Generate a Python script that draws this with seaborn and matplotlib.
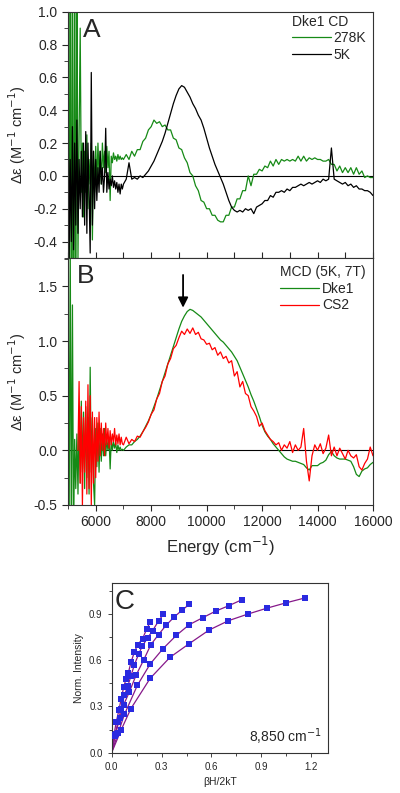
import numpy as np
import pandas as pd
import matplotlib
matplotlib.use("Agg")
import matplotlib.pyplot as plt
from matplotlib.ticker import MultipleLocator
import seaborn as sns

sns.set_style("ticks")
plt.rcParams['font.family'] = ['Liberation Sans', 'DejaVu Sans']
plt.rcParams['axes.unicode_minus'] = False

nan = np.nan

# energy grid of the spectra (cm-1): fine steps in the noisy NIR edge, 100 cm-1 after
E_LOW = [5000, 5040, 5080, 5120, 5160, 5200, 5240, 5280, 5320, 5360,
         5400, 5440, 5480, 5520, 5560, 5600, 5640, 5680, 5720, 5760,
         5800, 5840, 5880, 5920, 5960, 6000, 6040, 6080, 6120, 6160,
         6200, 6240, 6280, 6320, 6360, 6400, 6440, 6480, 6520, 6560,
         6600, 6640, 6680, 6720, 6760, 6800, 6840, 6880, 6920, 6960]
E_HIGH = [7000, 7100, 7200, 7300, 7400, 7500, 7600, 7700, 7800, 7900,
          8000, 8100, 8200, 8300, 8400, 8500, 8600, 8700, 8800, 8900,
          9000, 9100, 9200, 9300, 9400, 9500, 9600, 9700, 9800, 9900,
          10000, 10100, 10200, 10300, 10400, 10500, 10600, 10700, 10800, 10900,
          11000, 11100, 11200, 11300, 11400, 11500, 11600, 11700, 11800, 11900,
          12000, 12100, 12200, 12300, 12400, 12500, 12600, 12700, 12800, 12900,
          13000, 13100, 13200, 13300, 13400, 13500, 13600, 13700, 13800, 13900,
          14000, 14100, 14200, 14300, 14400, 14500, 14600, 14700, 14800, 14900,
          15000, 15100, 15200, 15300, 15400, 15500, 15600, 15700, 15800, 15900,
          16000]

# panel A: Dke1 CD
cd_278K = [1.6, -1.2, 1.8, -1.5, 1.4, -1.7, 1.5, -1.1, 1.3, -0.5,
           0.25, 0.9, -0.1, 0.2, -0.25, 0.15, -0.1, 0.25, -0.2, 0.1,
           -0.05, 0.2, -0.39, 0.15, -0.1, 0.18, -0.05, 0.2, 0.0, 0.15,
           -0.05, 0.2, 0.05, 0.15, 0.02, 0.18, 0.05, 0.15, -0.15, 0.12,
           0.08, 0.14, 0.1, 0.12, 0.09, 0.13, 0.1, 0.12, 0.1, 0.11,
           0.10, 0.13, 0.10, 0.15, 0.12, 0.16, 0.16, 0.21, 0.23, 0.28,
           0.30, 0.34, 0.32, 0.33, 0.30, 0.31, 0.28, 0.28, 0.23, 0.22,
           0.17, 0.16, 0.11, 0.08, 0.02, 0.00, -0.06, -0.09, -0.15, -0.16,
           -0.20, -0.20, -0.24, -0.24, -0.27, -0.28, -0.28, -0.24, -0.24, -0.19,
           -0.19, -0.14, -0.14, -0.09, -0.09, 0.00, -0.06, 0.01, 0.01, 0.04,
           0.03, 0.06, 0.05, 0.09, 0.06, 0.10, 0.07, 0.10, 0.09, 0.10,
           0.09, 0.10, 0.09, 0.12, 0.09, 0.12, 0.09, 0.11, 0.10, 0.11,
           0.10, 0.10, 0.09, 0.09, 0.10, 0.07, 0.07, 0.03, 0.06, 0.02,
           0.05, 0.02, 0.05, 0.01, 0.05, 0.01, 0.03, -0.01, 0.00, -0.01,
           -0.01]
cd_5K = [0.8, -0.5, 0.1, -0.4, 0.3, -0.45, 0.2, -0.3, 0.34, -0.35,
         0.1, -0.2, 0.15, -0.25, 0.2, -0.3, 0.27, -0.35, 0.2, -0.1,
         -0.47, 0.63, -0.3, 0.15, -0.2, 0.1, -0.15, 0.05, -0.1, 0.15,
         -0.05, 0.05, -0.1, 0.0, 0.29, -0.1, 0.02, -0.08, -0.02, -0.06,
         0.0, -0.07, -0.03, -0.08, -0.04, -0.1, -0.05, -0.11, -0.05, -0.08,
         -0.05, -0.02, 0.08, -0.02, -0.01, -0.02, 0.00, -0.01, 0.01, 0.03,
         0.06, 0.09, 0.13, 0.17, 0.21, 0.26, 0.32, 0.38, 0.44, 0.49,
         0.53, 0.55, 0.54, 0.51, 0.48, 0.44, 0.41, 0.37, 0.34, 0.29,
         0.23, 0.17, 0.12, 0.07, 0.03, -0.01, -0.05, -0.10, -0.15, -0.19,
         -0.21, -0.22, -0.21, -0.22, -0.20, -0.21, -0.20, -0.23, -0.19, -0.18,
         -0.17, -0.15, -0.15, -0.12, -0.13, -0.10, -0.10, -0.09, -0.10, -0.08,
         -0.09, -0.07, -0.07, -0.06, -0.05, -0.06, -0.05, -0.04, -0.05, -0.04,
         -0.03, -0.04, -0.02, -0.03, -0.02, 0.17, -0.02, -0.03, -0.04, -0.05,
         -0.04, -0.06, -0.05, -0.07, -0.06, -0.08, -0.08, -0.09, -0.09, -0.10,
         -0.12]

# panel B: MCD (5K, 7T)
mcd_dke1 = [1.9, -0.8, 1.9, -0.8, 1.33, -0.8, 0.1, -0.35, 0.15, -0.4,
            0.3, -0.3, 0.45, -0.2, 0.35, -0.35, 0.4, -0.25, 0.3, -0.4,
            0.76, -0.2, 0.3, -0.3, -0.5, 0.2, -0.15, 0.25, -0.2, 0.2,
            -0.1, 0.15, -0.05, 0.2, -0.05, 0.1, 0.0, 0.12, -0.17, 0.1,
            0.0, 0.08, 0.02, 0.07, -0.02, 0.05, 0.0, 0.03, 0.0, 0.01,
            0.00, 0.03, 0.05, 0.05, 0.08, 0.10, 0.13, 0.17, 0.22, 0.27,
            0.33, 0.40, 0.47, 0.55, 0.63, 0.71, 0.79, 0.87, 0.95, 1.03,
            1.11, 1.18, 1.23, 1.27, 1.29, 1.28, 1.26, 1.24, 1.22, 1.19,
            1.16, 1.13, 1.10, 1.07, 1.04, 1.01, 0.99, 0.96, 0.93, 0.90,
            0.86, 0.82, 0.76, 0.70, 0.64, 0.58, 0.51, 0.45, 0.38, 0.31,
            0.23, 0.17, 0.13, 0.10, 0.06, 0.03, 0.00, -0.03, -0.06, -0.08,
            -0.09, -0.10, -0.10, -0.11, -0.12, -0.13, -0.16, -0.18, -0.14, -0.14,
            -0.14, -0.12, -0.11, -0.09, -0.04, -0.01, -0.05, -0.07, -0.08, -0.08,
            -0.08, -0.09, -0.10, -0.15, -0.22, -0.24, -0.19, -0.17, -0.16, -0.13,
            -0.11]
mcd_cs2 = [nan, nan, nan, nan, nan, nan, nan, nan, nan, 0.0,
           0.63, -0.3, 0.4, -0.5, 0.3, -0.2, 0.45, -0.4, 0.6, -0.35,
           0.5, -0.5, 0.35, -0.3, 0.3, -0.25, 0.3, -0.1, 0.35, -0.05,
           0.25, 0.0, 0.2, -0.05, 0.25, 0.05, 0.2, 0.02, 0.18, 0.05,
           0.15, 0.08, 0.2, 0.05, 0.14, 0.06, 0.15, 0.05, 0.12, 0.06,
           0.05, 0.12, 0.06, 0.10, 0.08, 0.13, 0.12, 0.17, 0.21, 0.26,
           0.33, 0.37, 0.47, 0.52, 0.63, 0.68, 0.79, 0.84, 0.93, 0.96,
           1.03, 1.09, 1.06, 1.11, 1.07, 1.12, 1.06, 1.08, 1.02, 1.01,
           0.97, 0.98, 0.92, 0.94, 0.87, 0.90, 0.84, 0.86, 0.80, 0.82,
           0.68, 0.72, 0.58, 0.63, 0.52, 0.50, 0.40, 0.36, 0.31, 0.22,
           0.25, 0.18, 0.14, 0.10, 0.08, 0.05, 0.07, 0.00, 0.05, 0.02,
           0.08, -0.02, 0.05, 0.00, 0.03, 0.20, -0.10, -0.28, -0.05, 0.05,
           0.00, 0.06, -0.03, 0.02, 0.14, -0.05, 0.03, -0.05, 0.02, -0.03,
           -0.08, 0.00, -0.05, -0.07, -0.04, -0.15, -0.18, -0.12, -0.08, 0.03,
           -0.05]

# panel C: VTVH saturation at 8,850 cm-1 (one curve per temperature)
bh_1 = [0, 0.058, 0.115, 0.232, 0.351, 0.466, 0.585, 0.702, 0.819, 0.936, 1.049, 1.164]
int_1 = [0, 0.149, 0.284, 0.482, 0.618, 0.706, 0.794, 0.855, 0.898, 0.937, 0.971, 1.003]
bh_2 = [0, 0.04, 0.077, 0.155, 0.232, 0.309, 0.389, 0.466, 0.547, 0.625, 0.704, 0.781]
int_2 = [0, 0.13, 0.248, 0.437, 0.575, 0.674, 0.760, 0.829, 0.874, 0.917, 0.952, 0.990]
bh_3 = [0, 0.024, 0.048, 0.072, 0.107, 0.147, 0.192, 0.236, 0.282, 0.327, 0.375, 0.422, 0.466]
int_3 = [0, 0.12, 0.222, 0.31, 0.394, 0.502, 0.599, 0.70, 0.765, 0.825, 0.878, 0.922, 0.960]
bh_4 = [0, 0.02, 0.038, 0.058, 0.077, 0.097, 0.117, 0.137, 0.163, 0.184, 0.216, 0.246, 0.282, 0.311]
int_4 = [0, 0.11, 0.2, 0.286, 0.373, 0.43, 0.5, 0.57, 0.64, 0.69, 0.743, 0.79, 0.853, 0.896]
bh_5 = [0, 0.014, 0.028, 0.044, 0.058, 0.073, 0.087, 0.101, 0.117, 0.137, 0.157, 0.186, 0.21, 0.232]
int_5 = [0, 0.114, 0.2, 0.276, 0.351, 0.426, 0.48, 0.519, 0.588, 0.652, 0.70, 0.738, 0.799, 0.846]

GREEN = '#168a16'
RED = '#ff0000'
PURPLE = '#86198a'
BLUE = '#2a2ae0'

energy = E_LOW + E_HIGH
spec = pd.DataFrame({'E': energy, 'cd278': cd_278K, 'cd5': cd_5K,
                     'dke1': mcd_dke1, 'cs2': mcd_cs2})

fig = plt.figure(figsize=(4, 7.93), dpi=100)
axA = fig.add_axes([0.17, 0.6747, 0.7625, 0.3105])
axB = fig.add_axes([0.17, 0.3632, 0.7625, 0.3115])
axC = fig.add_axes([0.279, 0.0508, 0.541, 0.2142])

ylab = 'Δε (M$^{-1}$ cm$^{-1}$)'

# ---- A
axA.axhline(0, color='black', lw=0.8, zorder=1)
sns.lineplot(data=spec, x='E', y='cd278', ax=axA, color=GREEN, lw=0.9,
             label='278K', estimator=None, sort=False)
sns.lineplot(data=spec, x='E', y='cd5', ax=axA, color='black', lw=0.9,
             label='5K', estimator=None, sort=False)
axA.set_xlim(5000, 16000)
axA.set_ylim(-0.5, 1.0)
axA.yaxis.set_major_locator(MultipleLocator(0.2))
axA.yaxis.set_minor_locator(MultipleLocator(0.1))
axA.xaxis.set_major_locator(MultipleLocator(1000))
axA.tick_params(axis='x', direction='in', length=4, labelbottom=False)
axA.tick_params(axis='y', direction='out', labelsize=10, length=4)
axA.tick_params(axis='y', which='minor', direction='out', length=3)
axA.set_xlabel('')
axA.set_ylabel(ylab, fontsize=10.5)
axA.text(0.05, 0.975, 'A', transform=axA.transAxes, fontsize=19, va='top')
axA.legend(loc='upper right', bbox_to_anchor=(1.0, 0.95), frameon=False,
           fontsize=10, handlelength=2.8, handletextpad=0.2,
           borderaxespad=0.2, borderpad=0.3, labelspacing=0.2)
axA.text(0.735, 0.93, 'Dke1 CD', transform=axA.transAxes, fontsize=10, va='bottom')

# ---- B
axB.axhline(0, color='black', lw=0.8, zorder=1)
sns.lineplot(data=spec, x='E', y='dke1', ax=axB, color=GREEN, lw=0.9,
             label='Dke1', estimator=None, sort=False)
sns.lineplot(data=spec, x='E', y='cs2', ax=axB, color=RED, lw=0.9,
             label='CS2', estimator=None, sort=False)
axB.annotate('', xy=(9150, 1.28), xytext=(9150, 1.63),
             arrowprops=dict(arrowstyle='-|>', color='black', lw=1.3, mutation_scale=15))
axB.set_xlim(5000, 16000)
axB.set_ylim(-0.5, 1.76)
axB.yaxis.set_major_locator(MultipleLocator(0.5))
axB.yaxis.set_minor_locator(MultipleLocator(0.25))
axB.xaxis.set_major_locator(MultipleLocator(2000))
axB.xaxis.set_minor_locator(MultipleLocator(1000))
axB.tick_params(axis='both', direction='out', labelsize=10, length=4)
axB.tick_params(axis='both', which='minor', direction='out', length=3)
axB.set_ylabel(ylab, fontsize=10.5)
axB.set_xlabel('Energy (cm$^{-1}$)', fontsize=12)
axB.text(0.03, 0.975, 'B', transform=axB.transAxes, fontsize=19, va='top')
axB.legend(title='MCD (5K, 7T)', loc='upper right', frameon=False, alignment='left',
           fontsize=10, title_fontsize=10, handlelength=2.8, handletextpad=0.2,
           borderaxespad=0.2, borderpad=0.3, labelspacing=0.2)

# ---- C
for bh, inten in [(bh_1, int_1), (bh_2, int_2), (bh_3, int_3), (bh_4, int_4), (bh_5, int_5)]:
    sns.lineplot(x=bh, y=inten, ax=axC, color=PURPLE, lw=0.9, estimator=None, sort=False)
    sns.scatterplot(x=bh[1:], y=inten[1:], ax=axC, color=BLUE, marker='s', s=14,
                    linewidth=0, zorder=3)
axC.set_xlim(0, 1.3)
axC.set_ylim(0, 1.1)
axC.xaxis.set_major_locator(MultipleLocator(0.3))
axC.xaxis.set_minor_locator(MultipleLocator(0.15))
axC.yaxis.set_major_locator(MultipleLocator(0.3))
axC.yaxis.set_minor_locator(MultipleLocator(0.15))
axC.tick_params(axis='both', direction='out', labelsize=7, length=3, width=0.6)
axC.tick_params(axis='both', which='minor', direction='out', length=2, width=0.6)
axC.set_xlabel('βH/2kT', fontsize=7.5)
axC.set_ylabel('Norm. Intensity', fontsize=7.5)
axC.text(0.015, 0.965, 'C', transform=axC.transAxes, fontsize=20, va='top')
axC.text(0.97, 0.035, '8,850 cm$^{-1}$', transform=axC.transAxes, fontsize=10,
         ha='right', va='bottom')

for ax in (axA, axB, axC):
    for sp in ax.spines.values():
        sp.set_color('#333333')
        sp.set_linewidth(0.8)

fig.savefig('out.png', dpi=100)
